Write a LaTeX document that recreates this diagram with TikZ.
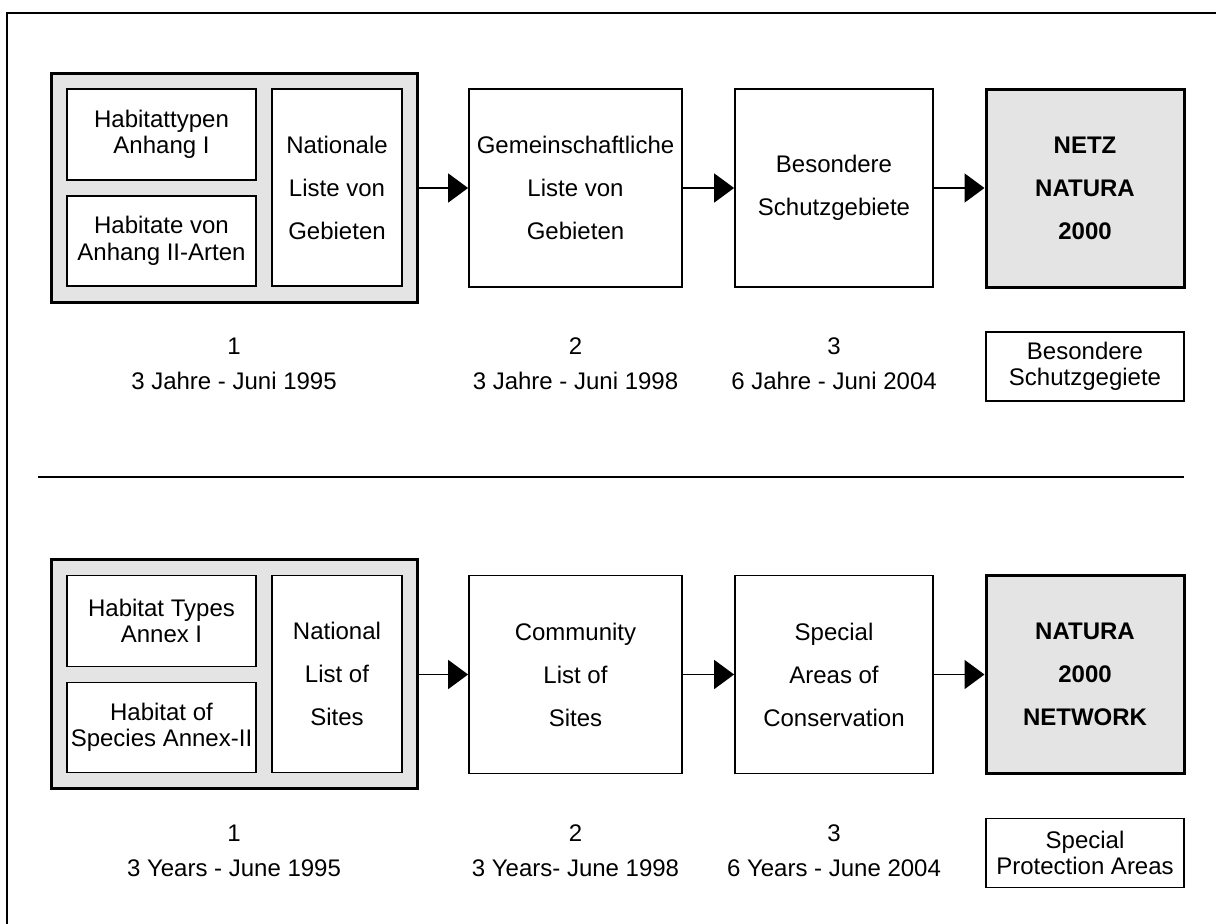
\documentclass[tikz,border=0pt]{standalone}
\usepackage{fontspec}
\setmainfont{Liberation Sans}
\usetikzlibrary{arrows.meta}
\definecolor{boxgrey}{RGB}{228,228,228}
\begin{document}
\begin{tikzpicture}[x=1pt,y=-1pt,
  frameline/.style={line width=2.4pt},
  sepline/.style={line width=2pt},
  greybox/.style={draw, line width=3pt, fill=boxgrey, inner sep=0pt},
  wbox/.style={draw, line width=1.8pt, fill=white, align=center, inner sep=0pt,
     font=\fontsize{24}{43}\selectfont},
  smallbox/.style={draw, line width=1.8pt, fill=white, align=center, inner sep=0pt,
     font=\fontsize{24}{26.5}\selectfont},
  goal/.style={draw, line width=3pt, fill=boxgrey, align=center, inner sep=0pt,
     font=\fontsize{24}{43}\selectfont\bfseries, minimum width=198pt, minimum height=198pt},
  lbl/.style={align=center, inner sep=0pt, font=\fontsize{24}{35}\selectfont},
  arr/.style={line width=1.8pt, -{Triangle[length=20pt,width=29pt]}}
]
\useasboundingbox (0,0) rectangle (1216,924);
\fill[white] (0,0) rectangle (1216,924);
% frame (top and left edges)
\draw[frameline] (7,930) -- (7,13) -- (1222,13);

% ---------- upper section (German) ----------
\node[greybox, minimum width=366pt, minimum height=229pt] (g1) at (234,187.5) {};
\node[smallbox, minimum width=189pt, minimum height=91pt] (h1) at (161.5,134.5) {Habitattypen\\Anhang I};
\node[smallbox, minimum width=189pt, minimum height=90pt] (h2) at (161.5,241) {Habitate von\\Anhang II-Arten};
\node[wbox, minimum width=130pt, minimum height=197pt] (n1) at (337,187.5) {Nationale\\Liste von\\Gebieten};
\node[wbox, minimum width=213pt, minimum height=198pt] (c1) at (575.5,188) {Gemeinschaftliche\\Liste von\\Gebieten};
\node[wbox, minimum width=198pt, minimum height=198pt] (b1) at (834,188) {Besondere\\Schutzgebiete};
\node[goal] (z1) at (1085,188) {NETZ\\NATURA\\2000};

\draw[arr] (g1.east |- c1.west) -- (c1.west);
\draw[arr] (c1.east) -- (b1.west);
\draw[arr] (b1.east) -- (z1.west);

\node[lbl] (l1a) at (234,364) {1\\3 Jahre - Juni 1995};
\node[lbl] (l1b) at (575.5,364) {2\\3 Jahre - Juni 1998};
\node[lbl] (l1c) at (834,364) {3\\6 Jahre - Juni 2004};
\node[smallbox, minimum width=198pt, minimum height=69pt] (s1) at (1085,366.5) {Besondere\\Schutzgegiete};

% separator
\draw[sepline] (38,477) -- (1184,477);

% ---------- lower section (English) ----------
\node[greybox, minimum width=366pt, minimum height=229pt] (g2) at (234,674) {};
\node[smallbox, minimum width=189pt, minimum height=91pt] (h3) at (161.5,621) {Habitat Types\\Annex I};
\node[smallbox, minimum width=189pt, minimum height=90pt] (h4) at (161.5,727.5) {Habitat of\\Species Annex-II};
\node[wbox, minimum width=130pt, minimum height=197pt] (n2) at (337,674) {National\\List of\\Sites};
\node[wbox, minimum width=213pt, minimum height=198pt] (c2) at (575.5,674.5) {Community\\List of\\Sites};
\node[wbox, minimum width=198pt, minimum height=198pt] (b2) at (834,674.5) {Special\\Areas of\\Conservation};
\node[goal] (z2) at (1085,674.5) {NATURA\\2000\\NETWORK};

\draw[arr] (g2.east |- c2.west) -- (c2.west);
\draw[arr] (c2.east) -- (b2.west);
\draw[arr] (b2.east) -- (z2.west);

\node[lbl] (l2a) at (234,850.5) {1\\3 Years - June 1995};
\node[lbl] (l2b) at (575.5,850.5) {2\\3 Years- June 1998};
\node[lbl] (l2c) at (834,850.5) {3\\6 Years - June 2004};
\node[smallbox, minimum width=198pt, minimum height=69pt] (s2) at (1085,853) {Special\\Protection Areas};
\end{tikzpicture}
\end{document}
